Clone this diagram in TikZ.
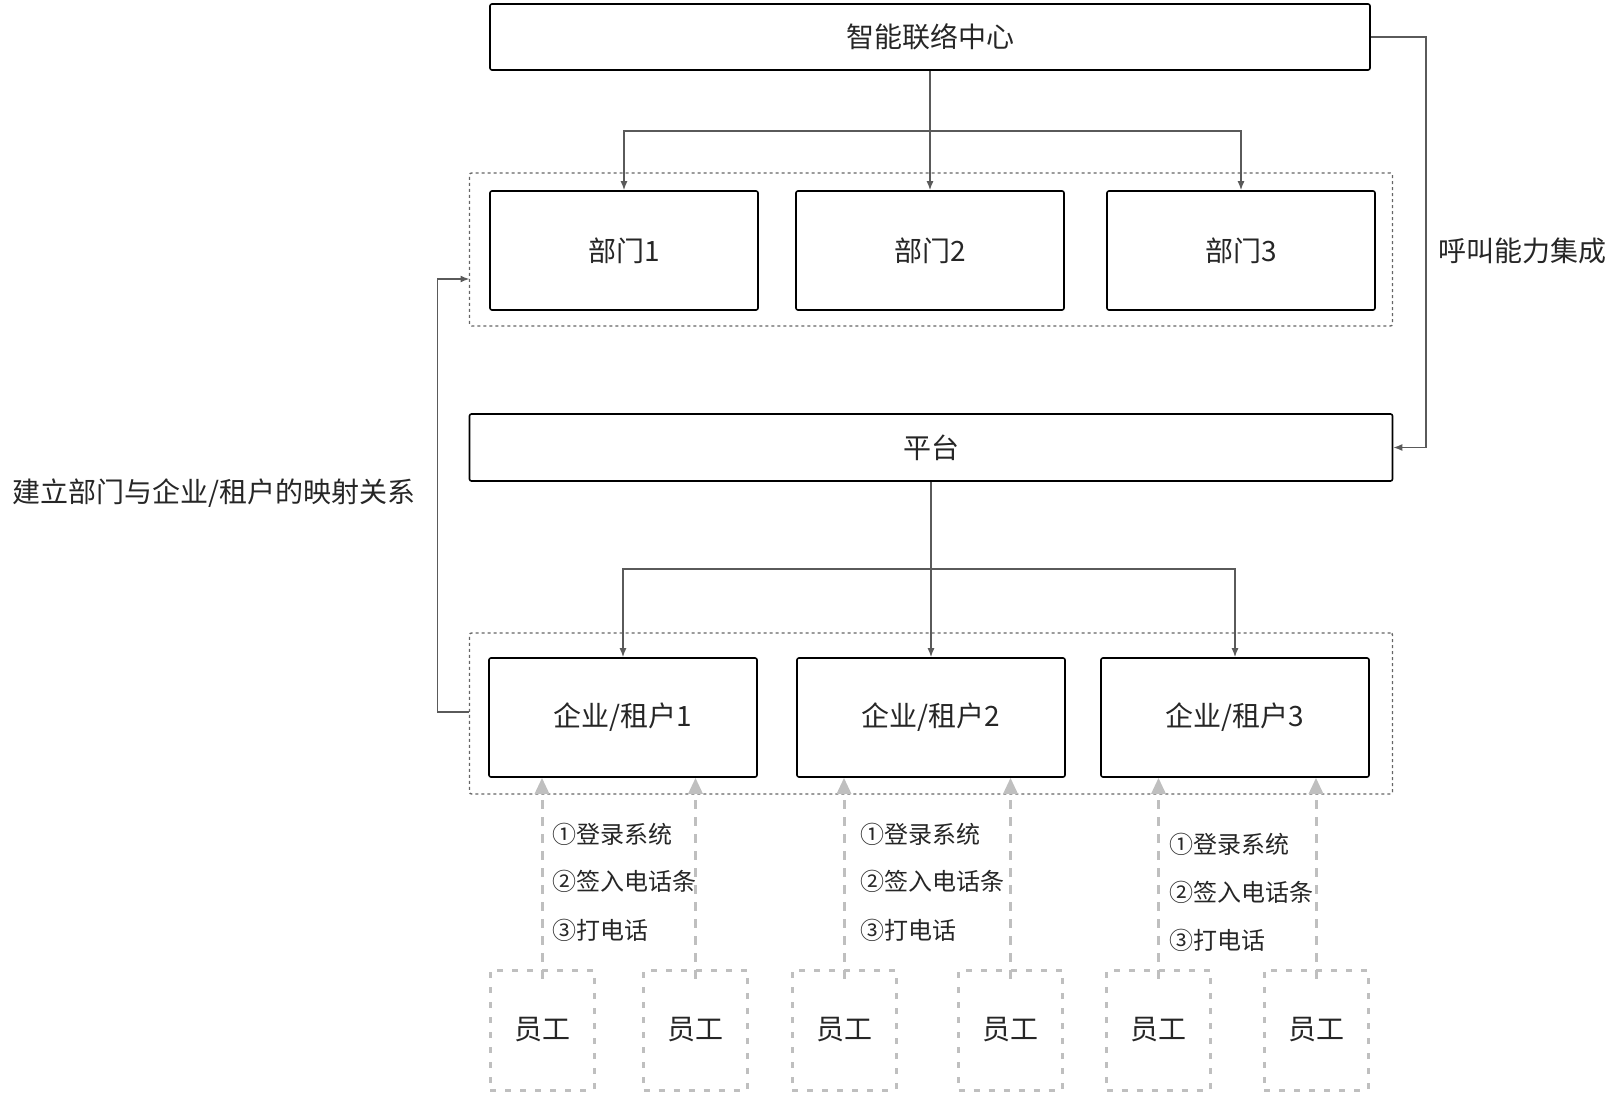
\documentclass[tikz,border=0pt]{standalone}
\usepackage{fontspec}
\setmainfont{Noto Sans CJK SC}
\usetikzlibrary{arrows.meta}
\definecolor{txt}{HTML}{262626}
\definecolor{conn}{HTML}{5A5A5A}
\definecolor{lgray}{HTML}{BFBFBF}
\definecolor{dgray}{HTML}{666666}
\tikzset{
  box/.style={draw=black, line width=1.6pt, rounded corners=2pt, text=txt, font=\fontsize{28}{32}\selectfont, inner sep=0pt},
  container/.style={draw=dgray, line width=1.4pt, dash pattern=on 3pt off 3pt, rounded corners=2pt, inner sep=0pt},
  empbox/.style={draw=lgray, line width=3pt, dash pattern=on 6pt off 9pt, text=txt, font=\fontsize{28}{32}\selectfont, inner sep=0pt, minimum width=104pt, minimum height=120pt},
  connline/.style={draw=conn, line width=1.5pt, -{Latex[length=9pt,width=7pt]}},
  stepline/.style={draw=lgray, line width=3pt, dash pattern=on 9pt off 8pt, -{Triangle[length=16pt,width=14pt]}},
  steptxt/.style={text=txt, font=\fontsize{24}{28}\selectfont, anchor=west, inner sep=0pt},
  labeltxt/.style={text=txt, font=\fontsize{28}{32}\selectfont, inner sep=0pt}
}
\begin{document}
\begin{tikzpicture}[x=1pt,y=-1pt]
\useasboundingbox (0,0) rectangle (1618,1094);
% containers
\node[container, minimum width=923pt, minimum height=153pt] (c1) at (931,249.5) {};
\node[container, minimum width=923pt, minimum height=161pt] (c2) at (931,713.5) {};
% top
\node[box, minimum width=880pt, minimum height=66pt] (top) at (930,37) {智能联络中心};
% departments
\node[box, minimum width=268pt, minimum height=119pt] (d1) at (624,250.5) {部门1};
\node[box, minimum width=268pt, minimum height=119pt] (d2) at (930,250.5) {部门2};
\node[box, minimum width=268pt, minimum height=119pt] (d3) at (1241,250.5) {部门3};
% platform
\node[box, minimum width=923pt, minimum height=67pt] (plat) at (931,447.5) {平台};
% tenants
\node[box, minimum width=268pt, minimum height=119pt] (t1) at (623,717.5) {企业/租户1};
\node[box, minimum width=268pt, minimum height=119pt] (t2) at (931,717.5) {企业/租户2};
\node[box, minimum width=268pt, minimum height=119pt] (t3) at (1235,717.5) {企业/租户3};
% employees
\node[empbox] (e1) at (542,1030) {员工};
\node[empbox] (e2) at (695.5,1030) {员工};
\node[empbox] (e3) at (844,1030) {员工};
\node[empbox] (e4) at (1010.5,1030) {员工};
\node[empbox] (e5) at (1158.5,1030) {员工};
\node[empbox] (e6) at (1316,1030) {员工};
% top distribution
\coordinate (j1) at (930,131);
\draw[connline] (top.south) -- (d2.north);
\draw[connline] (j1) -| (d1.north);
\draw[connline] (j1) -| (d3.north);
% platform distribution
\coordinate (j2) at (931,569);
\draw[connline] (plat.south) -- (t2.north);
\draw[connline] (j2) -| (t1.north);
\draw[connline] (j2) -| (t3.north);
% right connector
\coordinate (r1) at (1426,37);
\draw[connline] (top.east) -- (r1) |- (plat.east);
\node[labeltxt] (lr) at (1522,251) {呼叫能力集成};
% left connector
\coordinate (l1) at (437.5,712);
\coordinate (l2) at (469.5,279);
\draw[connline] (c2.west |- l1) -- (l1) |- (l2);
\node[labeltxt] (ll) at (214,493) {建立部门与企业/租户的映射关系};
% employee arrows
\draw[stepline] ([yshift=-10pt]e1.north) -- (e1.north |- t1.south);
\draw[stepline] ([yshift=-10pt]e2.north) -- (e2.north |- t1.south);
\draw[stepline] ([yshift=-10pt]e3.north) -- (e3.north |- t2.south);
\draw[stepline] ([yshift=-10pt]e4.north) -- (e4.north |- t2.south);
\draw[stepline] ([yshift=-10pt]e5.north) -- (e5.north |- t3.south);
\draw[stepline] ([yshift=-10pt]e6.north) -- (e6.north |- t3.south);
% step labels
\node[steptxt] (s11) at (552,834) {①登录系统};
\node[steptxt] (s12) at (552,881) {②签入电话条};
\node[steptxt] (s13) at (552,930) {③打电话};
\node[steptxt] (s21) at (860,834) {①登录系统};
\node[steptxt] (s22) at (860,881) {②签入电话条};
\node[steptxt] (s23) at (860,930) {③打电话};
\node[steptxt] (s31) at (1169,844) {①登录系统};
\node[steptxt] (s32) at (1169,892) {②签入电话条};
\node[steptxt] (s33) at (1169,940) {③打电话};
\end{tikzpicture}
\end{document}
